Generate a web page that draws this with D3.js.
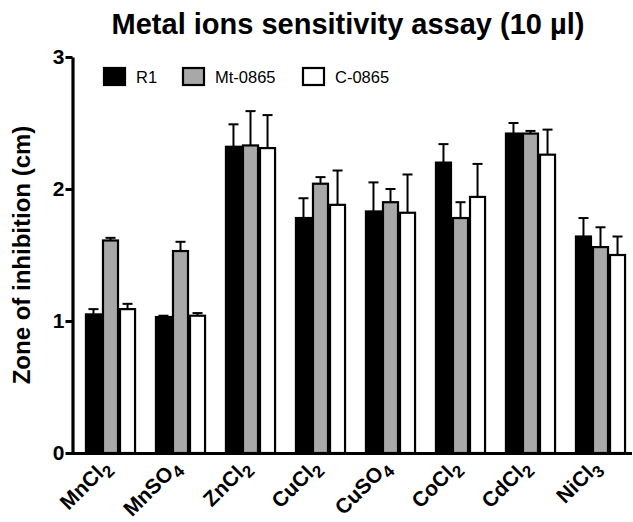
<!DOCTYPE html>
<html>
<head>
<meta charset="utf-8">
<script src="https://cdn.jsdelivr.net/npm/d3@7"></script>
<style>
  body { margin: 0; background: #fff; }
  svg { font-family: "Liberation Sans", Arial, sans-serif; }
</style>
</head>
<body>
<div id="chart"></div>
<script>
// Data
const salts = [
    { base: 'MnCl', sub: '2' }, { base: 'MnSO', sub: '4' }, { base: 'ZnCl', sub: '2' },
    { base: 'CuCl', sub: '2' }, { base: 'CuSO', sub: '4' }, { base: 'CoCl', sub: '2' },
    { base: 'CdCl', sub: '2' }, { base: 'NiCl', sub: '3' }
];
const seriesNames = ['R1', 'Mt-0865', 'C-0865'];
const seriesColors = ['#000000', '#a8a8a8', '#ffffff'];

const r1Mean   = [1.05, 1.03, 2.32, 1.78, 1.83, 2.20, 2.42, 1.64];
const r1Err    = [0.04, 0.01, 0.17, 0.15, 0.22, 0.14, 0.08, 0.14];
const mtMean   = [1.61, 1.53, 2.33, 2.04, 1.90, 1.78, 2.42, 1.56];
const mtErr    = [0.02, 0.07, 0.26, 0.05, 0.10, 0.12, 0.02, 0.15];
const cMean    = [1.09, 1.04, 2.31, 1.88, 1.82, 1.94, 2.26, 1.50];
const cErr     = [0.04, 0.02, 0.25, 0.26, 0.29, 0.25, 0.19, 0.14];

const yTicks = [0, 1, 2, 3];

const means = [r1Mean, mtMean, cMean];
const errs = [r1Err, mtErr, cErr];

const width = 633, height = 522;
const svg = d3.select('#chart').append('svg')
    .attr('width', width)
    .attr('height', height);

const x = d3.scaleBand()
    .domain(d3.range(salts.length))
    .range([75.5, 635.5])
    .paddingInner(0.27)
    .paddingOuter(0.135);

const xs = d3.scaleBand()
    .domain(d3.range(seriesNames.length))
    .range([0, x.bandwidth()]);

const y = d3.scaleLinear().domain([0, 3]).range([453, 57]);

// Title
svg.append('text')
    .attr('x', 348).attr('y', 34)
    .attr('text-anchor', 'middle')
    .attr('font-size', 29).attr('font-weight', 'bold')
    .text('Metal ions sensitivity assay (10 µl)');

// Y axis label
svg.append('text')
    .attr('transform', `translate(30,${y(1.5)}) rotate(-90)`)
    .attr('text-anchor', 'middle')
    .attr('font-size', 24).attr('font-weight', 'bold')
    .text('Zone of inhibition (cm)');

// Bars
const groups = svg.append('g').selectAll('g')
    .data(salts)
    .join('g')
    .attr('transform', (d, i) => `translate(${x(i)},0)`);

groups.each(function (d, i) {
    const g = d3.select(this);
    seriesNames.forEach((s, k) => {
        const v = means[k][i], e = errs[k][i];
        const cx = xs(k) + xs.bandwidth() / 2;
        // error bar (upper only)
        g.append('line')
            .attr('x1', cx).attr('x2', cx)
            .attr('y1', y(v)).attr('y2', y(v + e))
            .attr('stroke', '#000').attr('stroke-width', 2);
        g.append('line')
            .attr('x1', cx - 5).attr('x2', cx + 5)
            .attr('y1', y(v + e)).attr('y2', y(v + e))
            .attr('stroke', '#000').attr('stroke-width', 2);
        g.append('rect')
            .attr('x', xs(k) + 1)
            .attr('y', y(v))
            .attr('width', xs.bandwidth() - 2)
            .attr('height', y(0) - y(v))
            .attr('fill', seriesColors[k])
            .attr('stroke', '#000')
            .attr('stroke-width', 2.2);
    });
});

// Y axis
const yAxis = svg.append('g')
    .attr('transform', 'translate(72.5,0)')
    .call(d3.axisLeft(y).tickValues(yTicks).tickSize(7).tickSizeOuter(0).tickFormat(d3.format('d')));
yAxis.select('.domain').attr('stroke-width', 3.2);
yAxis.selectAll('.tick line').attr('stroke-width', 3);
yAxis.selectAll('.tick text')
    .attr('font-size', 21).attr('font-weight', 'bold')
    .attr('font-family', '"Liberation Sans", Arial, sans-serif')
    .attr('x', -8).attr('fill', '#000');

// X axis line
svg.append('line')
    .attr('x1', 71).attr('x2', 632)
    .attr('y1', y(0) + 0.5).attr('y2', y(0) + 0.5)
    .attr('stroke', '#000').attr('stroke-width', 3.2);

// X labels
salts.forEach((d, i) => {
    const cx = x(i) + x.bandwidth() / 2 + 1;
    const t = svg.append('text')
        .attr('transform', `translate(${cx},468) rotate(-45)`)
        .attr('text-anchor', 'end')
        .attr('font-size', 21).attr('font-weight', 'bold');
    t.append('tspan').text(d.base);
    t.append('tspan').attr('font-size', 17).attr('dy', 6).text(d.sub);
});

// Legend
const legendX = [103, 182, 302];
seriesNames.forEach((s, k) => {
    svg.append('rect')
        .attr('x', legendX[k] + 1).attr('y', 68)
        .attr('width', 21).attr('height', 17)
        .attr('fill', seriesColors[k])
        .attr('stroke', '#000').attr('stroke-width', 2.2);
    svg.append('text')
        .attr('x', legendX[k] + 33).attr('y', 83)
        .attr('font-size', 16.5)
        .text(s);
});
</script>
</body>
</html>
